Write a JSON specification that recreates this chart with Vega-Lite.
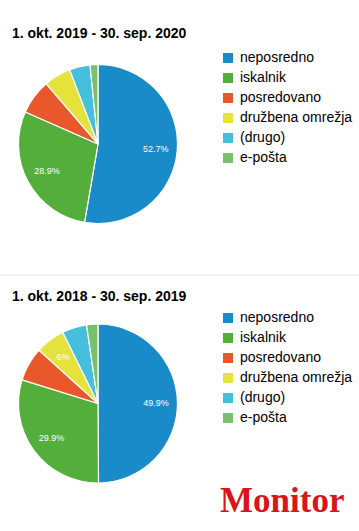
{
  "$schema": "https://vega.github.io/schema/vega-lite/v6.json",
  "background": "white",
  "padding": {"left": 0, "top": 27, "right": 0, "bottom": 0},
  "config": {
    "view": {"stroke": null},
    "font": "Liberation Sans",
    "concat": {"spacing": 14},
    "legend": {
      "orient": "none",
      "legendX": 220,
      "title": null,
      "symbolType": "square",
      "symbolSize": 100,
      "symbolStrokeWidth": 0,
      "labelFont": "Liberation Sans",
      "labelFontSize": 14,
      "labelColor": "#000000",
      "rowPadding": 6,
      "padding": 0,
      "labelOffset": 5
    }
  },
  "datasets": {
    "y2020": [
      {"source": "neposredno", "value": 52.7, "rank": 1, "label": "52.7%"},
      {"source": "iskalnik", "value": 28.9, "rank": 2, "label": "28.9%"},
      {"source": "posredovano", "value": 7.1, "rank": 3, "label": ""},
      {"source": "družbena omrežja", "value": 5.5, "rank": 4, "label": ""},
      {"source": "(drugo)", "value": 4.2, "rank": 5, "label": ""},
      {"source": "e-pošta", "value": 1.6, "rank": 6, "label": ""}
    ],
    "y2019": [
      {"source": "neposredno", "value": 49.9, "rank": 1, "label": "49.9%"},
      {"source": "iskalnik", "value": 29.9, "rank": 2, "label": "29.9%"},
      {"source": "posredovano", "value": 6.9, "rank": 3, "label": ""},
      {"source": "družbena omrežja", "value": 6.0, "rank": 4, "label": "6%"},
      {"source": "(drugo)", "value": 5.0, "rank": 5, "label": ""},
      {"source": "e-pošta", "value": 2.3, "rank": 6, "label": ""}
    ],
    "sep": [{"v": 0}]
  },
  "resolve": {"scale": {"color": "independent"}, "legend": {"color": "independent"}},
  "title": {
    "text": "Monitor",
    "orient": "bottom",
    "anchor": "end",
    "font": "Liberation Serif",
    "fontSize": 35,
    "fontWeight": "bold",
    "color": "#d9141b",
    "offset": -31,
    "dx": -16,
    "baseline": "top"
  },
  "vconcat": [
    {
      "width": 194,
      "height": 232,
      "title": {
        "text": "1. okt. 2019 - 30. sep. 2020",
        "anchor": "start",
        "fontSize": 14,
        "fontWeight": "bold",
        "font": "Liberation Sans",
        "color": "#000000",
        "offset": -13,
        "dx": 11
      },
      "data": {"name": "y2020"},
      "encoding": {
        "theta": {"field": "value", "type": "quantitative", "stack": true},
        "order": {"field": "rank", "type": "quantitative"},
        "color": {
          "field": "source",
          "type": "nominal",
          "scale": {
            "domain": ["neposredno", "iskalnik", "posredovano", "družbena omrežja", "(drugo)", "e-pošta"],
            "range": ["#1a8bc9", "#53ae3b", "#e9582b", "#e6e23c", "#45bfdc", "#78bf6e"]
          },
          "legend": {"legendY": 23}
        }
      },
      "layer": [
        {"mark": {"type": "arc", "outerRadius": 79.5, "stroke": "white", "strokeWidth": 1.2}},
        {"mark": {"type": "text", "radius": 58, "fontSize": 9, "font": "Liberation Sans"}, "encoding": {"text": {"field": "label"}, "color": {"value": "white"}}}
      ]
    },
    {
      "width": 359,
      "height": 1,
      "data": {"name": "sep"},
      "mark": {"type": "rule", "color": "#e4e4e4", "strokeWidth": 1},
      "encoding": {"y": {"field": "v", "type": "quantitative", "axis": null, "scale": {"domain": [0, 1]}}}
    },
    {
      "width": 194,
      "height": 223,
      "title": {
        "text": "1. okt. 2018 - 30. sep. 2019",
        "anchor": "start",
        "fontSize": 14,
        "fontWeight": "bold",
        "font": "Liberation Sans",
        "color": "#000000",
        "offset": -12,
        "dx": 11
      },
      "data": {"name": "y2019"},
      "encoding": {
        "theta": {"field": "value", "type": "quantitative", "stack": true},
        "order": {"field": "rank", "type": "quantitative"},
        "color": {
          "field": "source",
          "type": "nominal",
          "scale": {
            "domain": ["neposredno", "iskalnik", "posredovano", "družbena omrežja", "(drugo)", "e-pošta"],
            "range": ["#1a8bc9", "#53ae3b", "#e9582b", "#e6e23c", "#45bfdc", "#78bf6e"]
          },
          "legend": {"legendY": 19}
        }
      },
      "layer": [
        {"mark": {"type": "arc", "outerRadius": 79.5, "stroke": "white", "strokeWidth": 1.2}},
        {"mark": {"type": "text", "radius": 58, "fontSize": 9, "font": "Liberation Sans"}, "encoding": {"text": {"field": "label"}, "color": {"value": "white"}}}
      ]
    }
  ]
}
